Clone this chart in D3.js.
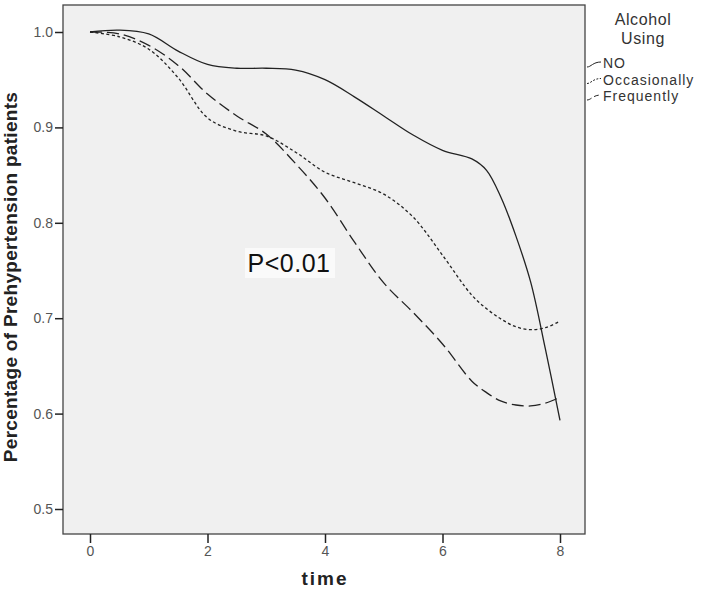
<!DOCTYPE html>
<html>
<head>
<meta charset="utf-8">
<script src="https://cdn.jsdelivr.net/npm/d3@7"></script>
<style>
  body { margin: 0; background: #fff; }
  svg { display: block; }
  text { font-family: "Liberation Sans", Arial, sans-serif; }
</style>
</head>
<body>
<div id="container"></div>
<script>
const width = 702;
const height = 594;

// time points (x)
const timePoints = [0, 0.5, 1, 1.5, 2, 2.5, 3, 3.5, 4, 4.5, 5, 5.5, 6, 6.5, 6.75, 7, 7.25, 7.5, 7.75, 8];

// Alcohol using groups
const noValues = [1.0, 1.002, 0.998, 0.98, 0.966, 0.962, 0.962, 0.96, 0.95, 0.932, 0.912, 0.892, 0.876, 0.867, 0.855, 0.826, 0.786, 0.738, 0.668, 0.593];
const occasionallyValues = [1.0, 0.995, 0.982, 0.952, 0.91, 0.896, 0.891, 0.874, 0.853, 0.842, 0.83, 0.806, 0.766, 0.724, 0.71, 0.699, 0.691, 0.688, 0.69, 0.697];
const frequentlyValues = [1.0, 0.998, 0.986, 0.965, 0.935, 0.912, 0.893, 0.862, 0.826, 0.78, 0.737, 0.706, 0.673, 0.634, 0.622, 0.613, 0.609, 0.608, 0.611, 0.617];

const seriesNames = ["NO", "Occasionally", "Frequently"];
const xTicks = [0, 2, 4, 6, 8];
const yTicks = [0.5, 0.6, 0.7, 0.8, 0.9, 1.0];

const series = [
	{ name: seriesNames[0], values: noValues, dash: null, legendDash: null },
	{ name: seriesNames[1], values: occasionallyValues, dash: "3,2.5", legendDash: "2,1.5" },
	{ name: seriesNames[2], values: frequentlyValues, dash: "12,5", legendDash: "5,3" }
];

// plot box
const box = { left: 63, right: 585, top: 5, bottom: 534 };

const x = d3.scaleLinear().domain([0, 8]).range([90, 560]);
const y = d3.scaleLinear().domain([0.5, 1.0]).range([509, 32]);

let svg = d3.select("#container")
	.append("svg")
	.attr("width", width)
	.attr("height", height);

svg.append("rect")
	.attr("x", box.left)
	.attr("y", box.top)
	.attr("width", box.right - box.left)
	.attr("height", box.bottom - box.top)
	.attr("fill", "#f0f0f0")
	.attr("stroke", "#444")
	.attr("stroke-width", 1.3);

// y axis
const yAxis = d3.axisLeft(y)
	.tickValues(yTicks)
	.tickFormat(d3.format(".1f"))
	.tickSize(8)
	.tickPadding(2);
const gy = svg.append("g")
	.attr("transform", "translate(" + box.left + ",0)")
	.call(yAxis);
gy.select(".domain").remove();
gy.selectAll(".tick line").attr("stroke", "#222").attr("stroke-width", 1.5);
gy.selectAll(".tick text").attr("font-size", 14).attr("fill", "#555");

// x axis
const xAxis = d3.axisBottom(x)
	.tickValues(xTicks)
	.tickFormat(d3.format("d"))
	.tickSize(9)
	.tickPadding(3);
const gx = svg.append("g")
	.attr("transform", "translate(0," + box.bottom + ")")
	.call(xAxis);
gx.select(".domain").remove();
gx.selectAll(".tick line").attr("stroke", "#222").attr("stroke-width", 1.5);
gx.selectAll(".tick text").attr("font-size", 14).attr("fill", "#555");

// axis titles
svg.append("text")
	.attr("x", x(4))
	.attr("y", 585)
	.attr("text-anchor", "middle")
	.attr("font-size", 19)
	.attr("font-weight", "bold")
	.attr("letter-spacing", 2)
	.attr("fill", "#222")
	.text("time");

svg.append("text")
	.attr("transform", "translate(17," + 277 + ") rotate(-90)")
	.attr("text-anchor", "middle")
	.attr("font-size", 19)
	.attr("font-weight", "bold")
	.attr("letter-spacing", 0.3)
	.attr("fill", "#222")
	.text("Percentage of Prehypertension patients");

// lines
const line = d3.line()
	.x((d, i) => x(timePoints[i]))
	.y(d => y(d))
	.curve(d3.curveCatmullRom.alpha(0.5));

svg.selectAll(".series")
	.data(series)
	.enter()
	.append("path")
	.attr("class", "series")
	.attr("d", d => line(d.values))
	.attr("fill", "none")
	.attr("stroke", "#222")
	.attr("stroke-width", 1.3)
	.attr("stroke-dasharray", d => d.dash);

// P value label
const pg = svg.append("g");
pg.append("rect")
	.attr("x", 245)
	.attr("y", 248)
	.attr("width", 90)
	.attr("height", 30)
	.attr("fill", "#fafafa");
pg.append("text")
	.attr("x", 289)
	.attr("y", 272)
	.attr("text-anchor", "middle")
	.attr("font-size", 25)
	.attr("letter-spacing", 0.5)
	.attr("fill", "#111")
	.text("P<0.01");

// legend
const legend = svg.append("g");
legend.append("text")
	.attr("x", 643)
	.attr("y", 25)
	.attr("text-anchor", "middle")
	.attr("font-size", 16)
	.attr("letter-spacing", 0.6)
	.attr("fill", "#333")
	.text("Alcohol");
legend.append("text")
	.attr("x", 643)
	.attr("y", 44)
	.attr("text-anchor", "middle")
	.attr("font-size", 16)
	.attr("letter-spacing", 0.6)
	.attr("fill", "#333")
	.text("Using");

const legendItems = legend.selectAll(".item")
	.data(series)
	.enter()
	.append("g")
	.attr("class", "item")
	.attr("transform", (d, i) => "translate(587," + (65 + i * 16.5) + ")");
legendItems.append("path")
	.attr("d", "M0,2 C4,2 6,-3 14,-3")
	.attr("fill", "none")
	.attr("stroke", "#222")
	.attr("stroke-width", 1)
	.attr("stroke-dasharray", d => d.legendDash);
legendItems.append("text")
	.attr("x", 16)
	.attr("y", 3)
	.attr("font-size", 14)
	.attr("letter-spacing", 1)
	.attr("fill", "#333")
	.text(d => d.name);
</script>
</body>
</html>
